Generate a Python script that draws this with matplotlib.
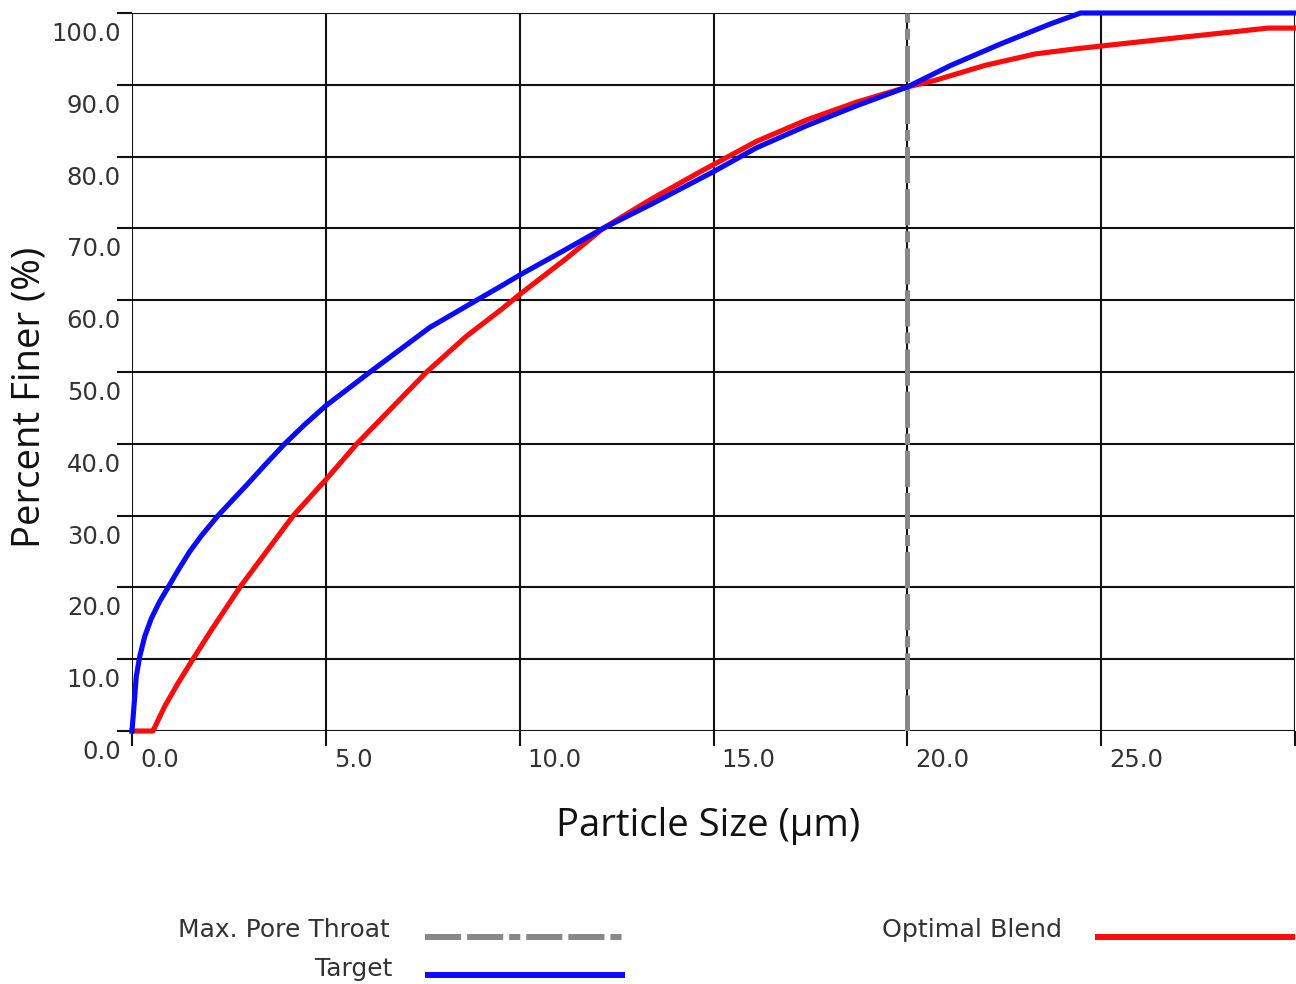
import matplotlib
matplotlib.use('Agg')
import matplotlib.pyplot as plt
from matplotlib.transforms import ScaledTranslation

target_size = [0.0, 0.05, 0.11, 0.2, 0.33, 0.5, 0.71, 0.93, 1.19, 1.49, 1.79, 2.22, 2.6, 3.0,
               3.42, 3.94, 4.46, 5.0, 6.14, 7.68, 8.89, 9.5, 10.0, 11.2, 12.15, 13.37, 15.0,
               16.1, 17.4, 18.7, 20.0, 21.12, 22.41, 23.7, 24.47, 30.0]
target_finer = [0.0, 3.4, 7.6, 10.4, 13.2, 15.7, 18.0, 20.0, 22.4, 25.0, 27.2, 30.0, 32.2, 34.5,
                37.0, 40.0, 42.7, 45.3, 50.0, 56.2, 60.0, 61.9, 63.5, 67.1, 70.0, 73.3, 77.9,
                81.2, 84.3, 87.1, 89.7, 92.7, 95.7, 98.5, 100.0, 100.0]

blend_size = [0.0, 0.54, 0.84, 1.18, 1.57, 2.04, 2.78, 3.47, 4.16, 5.0, 5.8, 6.7, 7.6, 8.63,
              9.5, 10.0, 11.2, 12.15, 13.37, 14.66, 16.1, 17.4, 18.7, 20.0, 20.7, 22.0, 23.3,
              24.33, 25.0, 26.7, 28.45, 29.3, 30.0]
blend_finer = [0.0, 0.0, 3.4, 6.6, 10.0, 14.0, 20.0, 25.0, 30.0, 35.0, 40.0, 45.0, 50.0, 55.0,
               58.6, 60.8, 65.8, 70.0, 74.0, 77.9, 82.1, 85.1, 87.6, 89.7, 90.6, 92.7, 94.3,
               95.0, 95.4, 96.4, 97.4, 97.9, 97.9]

max_pore_throat = 20.0

x_ticks = [0, 5, 10, 15, 20, 25, 30]
y_ticks = [0, 10, 20, 30, 40, 50, 60, 70, 80, 90, 100]

plt.rcParams['lines.scale_dashes'] = False
dash_pattern = (26, 4.3, 26, 4.3, 8, 4.3)
tick_color = '#333333'
blue = '#0a0aff'
red = '#ff0a0a'
gray = '#888888'

fig = plt.figure(figsize=(12.96, 9.84), dpi=100)
ax = fig.add_axes([132 / 1296, 1 - 731 / 984, 1163 / 1296, 718 / 984])

ax.plot(target_size, target_finer, color=blue, lw=3.7, clip_on=False, zorder=4,
        solid_joinstyle='round')
ax.plot(blend_size, blend_finer, color=red, lw=3.7, clip_on=False, zorder=3,
        solid_joinstyle='round')
ax.axvline(max_pore_throat, color=gray, lw=3.6, dashes=dash_pattern, zorder=2)

ax.set_xlim(0, 30)
ax.set_ylim(0, 100)
ax.set_xticks(x_ticks)
ax.set_xticklabels(['{:.1f}'.format(v) if v < 30 else '' for v in x_ticks])
ax.set_yticks(y_ticks)
ax.set_yticklabels(['{:.1f}'.format(v) for v in y_ticks])
ax.grid(True, color='#111111', lw=1.5, zorder=1)
for s in ax.spines.values():
    s.set_visible(False)
ax.tick_params(axis='both', direction='out', length=11, width=1.5, color='#111111',
               labelsize=17.5, labelcolor=tick_color)
ax.tick_params(axis='x', pad=1)
ax.tick_params(axis='y', pad=-3)

for lab in ax.get_yticklabels():
    lab.set_verticalalignment('top')
    lab.set_transform(lab.get_transform() + ScaledTranslation(0, -9 / 100, fig.dpi_scale_trans))
for lab in ax.get_xticklabels():
    lab.set_horizontalalignment('left')
    lab.set_transform(lab.get_transform() + ScaledTranslation(8 / 100, 0, fig.dpi_scale_trans))

ax.set_xlabel('Particle Size (µm)', fontsize=27.5, family='Open Sans', color='#111111')
ax.set_ylabel('Percent Finer (%)', fontsize=27.5, family='Open Sans', color='#111111')
ax.xaxis.set_label_coords(0.495, -0.132)
ax.xaxis.label.set_verticalalignment('center')
ax.yaxis.set_label_coords(-0.088, 0.464)
ax.yaxis.label.set_verticalalignment('center')

# legend drawn by hand, pixel coords of the lower band
lg = fig.add_axes([0, 0, 1, 110 / 984])
lg.set_xlim(0, 1296)
lg.set_ylim(984, 874)
lg.axis('off')
lg.text(390, 930, 'Max. Pore Throat', ha='right', va='center', fontsize=18, color='#333333')
lg.plot([425, 625], [937, 937], color=gray, lw=4.3, dashes=dash_pattern, solid_capstyle='butt')
lg.text(392, 969, 'Target', ha='right', va='center', fontsize=18, color='#333333')
lg.plot([425, 625], [975, 975], color=blue, lw=4.3, solid_capstyle='butt')
lg.text(882, 930, 'Optimal Blend', ha='left', va='center', fontsize=18.3, color='#333333')
lg.plot([1095, 1295], [937, 937], color=red, lw=4.3, solid_capstyle='butt')

fig.savefig('out.png', dpi=100)
